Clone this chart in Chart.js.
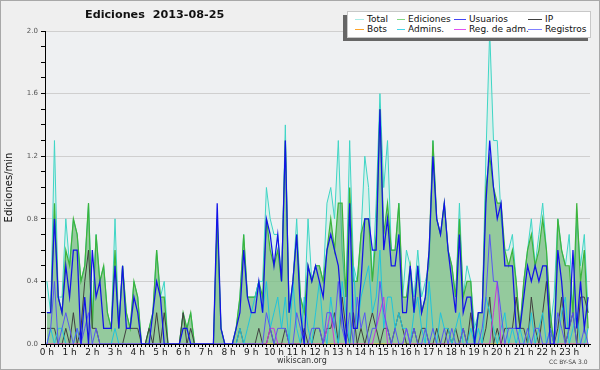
<!DOCTYPE html>
<html>
<head>
<meta charset="utf-8">
<script src="https://cdn.jsdelivr.net/npm/chart.js@4.4.1/dist/chart.umd.min.js"></script>
<style>
  html,body{margin:0;padding:0;background:#efefef;}
  #wrap{position:relative;width:600px;height:370px;background:#efefef;overflow:hidden;font-family:"DejaVu Sans",Verdana,sans-serif;}
  #c{position:absolute;left:0;top:0;}
  .frame{position:absolute;left:0;top:0;width:600px;height:370px;box-sizing:border-box;border:1px solid #a8a8a8;pointer-events:none;}
  .title{position:absolute;left:85px;top:8px;font-weight:bold;font-size:11.2px;white-space:pre;color:#111;}
  .lgshadow{position:absolute;left:343px;top:15px;width:245px;height:26px;background:#666;}
  .lgbox{position:absolute;left:347px;top:11px;width:242px;height:25px;background:#fff;border:1px solid #c8c8c8;}
  .li{position:absolute;font-size:9px;color:#111;white-space:nowrap;line-height:10px;}
  .ls{position:absolute;height:1px;}
  .foot{position:absolute;font-size:8px;color:#333;white-space:nowrap;}
</style>
</head>
<body>
<div id="wrap">
  <canvas id="c" width="600" height="370"></canvas>
  <div class="title">Ediciones  2013-08-25</div>
  <div class="lgshadow"></div>
  <div class="lgbox"></div>
  <div id="legend"></div>
  <div class="foot" style="left:277px;top:356px;">wikiscan.org</div>
  <div class="foot" style="left:549px;top:358px;font-size:6px;color:#444;">CC BY-SA 3.0</div>
  <div class="frame"></div>
</div>
<script>
// ---- data (10-minute slots, edits per minute) ----
const hourLabels = ['0 h','1 h','2 h','3 h','4 h','5 h','6 h','7 h','8 h','9 h','10 h','11 h','12 h','13 h','14 h','15 h','16 h','17 h','18 h','19 h','20 h','21 h','22 h','23 h'];
const yLabels = ['0.0','0.4','0.8','1.2','1.6','2.0'];
const seriesNames = ['Total','Ediciones','Usuarios','IP','Bots','Admins.','Reg. de adm.','Registros'];

const total = [
0.4,0.2,1.3,0.3,0.3,0.8, 0.5,0.8,0.7,0.4,0.5,0.9, 0.2,0.7,0.4,0.5,0.2,0.1, 0.8,0.1,0.5,0.2,0.1,0.4,
0.3,0.0,0.0,0.1,0.2,0.6, 0.3,0.4,0.0,0.0,0.0,0.0, 0.2,0.1,0.2,0.0,0.0,0.0, 0.0,0.0,0.0,0.8,0.1,0.0,
0.0,0.0,0.1,0.3,0.7,0.3, 0.3,0.3,0.4,0.4,1.0,0.8, 0.7,0.7,0.4,1.4,0.2,0.4, 0.8,0.3,0.2,0.8,0.4,0.5,
0.5,0.4,0.9,1.0,0.8,1.3, 0.6,0.3,1.3,0.5,0.4,0.7, 1.2,1.0,0.4,0.9,1.6,1.0, 1.3,0.6,0.6,0.9,0.3,0.6,
0.5,0.3,0.6,0.3,0.4,0.5, 1.3,0.8,0.7,0.9,0.6,0.5, 0.3,0.9,0.3,0.5,0.4,0.1, 0.2,0.2,1.2,2.0,1.3,1.3,
0.8,0.6,0.6,0.7,0.4,0.1, 0.4,0.6,0.8,0.5,0.7,0.9, 0.6,0.1,0.3,0.8,0.6,0.5, 0.7,0.2,0.8,0.5,0.7,0.2];

const ediciones = [
0.2,0.2,0.9,0.3,0.2,0.6, 0.5,0.8,0.7,0.4,0.5,0.9, 0.1,0.7,0.4,0.5,0.2,0.1, 0.6,0.1,0.5,0.2,0.1,0.4,
0.3,0.0,0.0,0.1,0.2,0.6, 0.3,0.3,0.0,0.0,0.0,0.0, 0.2,0.1,0.2,0.0,0.0,0.0, 0.0,0.0,0.0,0.8,0.1,0.0,
0.0,0.0,0.1,0.3,0.7,0.3, 0.3,0.3,0.4,0.3,0.8,0.6, 0.5,0.6,0.4,1.3,0.2,0.4, 0.7,0.3,0.2,0.5,0.4,0.5,
0.5,0.4,0.6,0.8,0.6,0.9, 0.9,0.3,1.0,0.4,0.4,0.7, 0.8,0.8,0.4,0.7,1.5,0.7, 0.9,0.6,0.6,0.9,0.3,0.3,
0.5,0.2,0.5,0.2,0.3,0.6, 1.3,0.8,0.7,0.9,0.6,0.5, 0.3,0.8,0.3,0.4,0.4,0.0, 0.2,0.2,1.0,1.2,1.0,0.9,
0.9,0.6,0.5,0.6,0.4,0.1, 0.4,0.6,0.7,0.5,0.6,0.8, 0.6,0.2,0.0,0.8,0.6,0.5, 0.5,0.2,0.9,0.4,0.6,0.1];

const usuarios = [
0.2,0.2,0.8,0.3,0.2,0.5, 0.3,0.6,0.6,0.0,0.3,0.0, 0.6,0.3,0.4,0.1,0.1,0.1, 0.5,0.1,0.5,0.1,0.1,0.3,
0.2,0.0,0.0,0.0,0.2,0.4, 0.3,0.0,0.0,0.0,0.0,0.0, 0.1,0.1,0.0,0.0,0.0,0.0, 0.0,0.0,0.0,0.9,0.1,0.0,
0.0,0.0,0.1,0.2,0.6,0.3, 0.2,0.2,0.4,0.2,0.8,0.7, 0.5,0.7,0.4,1.3,0.2,0.4, 0.7,0.2,0.0,0.5,0.4,0.5,
0.4,0.3,0.6,0.7,0.6,0.5, 0.2,0.0,0.9,0.1,0.1,0.4, 0.8,0.8,0.6,0.6,1.5,0.6, 0.8,0.5,0.5,0.7,0.2,0.2,
0.5,0.2,0.5,0.2,0.3,0.6, 1.2,0.8,0.7,0.9,0.6,0.4, 0.2,0.7,0.2,0.3,0.3,0.0, 0.2,0.2,0.9,1.3,1.0,0.8,
0.9,0.5,0.5,0.5,0.1,0.1, 0.3,0.5,0.4,0.5,0.4,0.5, 0.5,0.0,0.0,0.6,0.4,0.1, 0.1,0.6,0.1,0.4,0.1,0.3];

const ip = [
0.1,0.1,0.1,0.0,0.0,0.1, 0.0,0.2,0.0,0.1,0.4,0.6, 0.1,0.1,0.0,0.0,0.0,0.0, 0.0,0.0,0.0,0.1,0.1,0.1,
0.1,0.0,0.0,0.1,0.0,0.2, 0.0,0.2,0.0,0.0,0.0,0.0, 0.2,0.0,0.1,0.0,0.0,0.0, 0.0,0.0,0.0,0.0,0.0,0.0,
0.0,0.0,0.0,0.1,0.0,0.0, 0.0,0.0,0.1,0.0,0.0,0.1, 0.0,0.0,0.0,0.1,0.0,0.0, 0.0,0.0,0.1,0.0,0.0,0.1,
0.1,0.0,0.1,0.1,0.2,0.0, 0.3,0.1,0.0,0.2,0.0,0.1, 0.0,0.1,0.2,0.1,0.0,0.1, 0.1,0.0,0.1,0.2,0.1,0.0,
0.0,0.1,0.0,0.1,0.1,0.0, 0.0,0.1,0.0,0.0,0.1,0.0, 0.1,0.0,0.1,0.0,0.2,0.0, 0.0,0.0,0.1,0.3,0.0,0.1,
0.0,0.1,0.1,0.1,0.3,0.1, 0.1,0.0,0.3,0.1,0.0,0.2, 0.4,0.1,0.0,0.1,0.3,0.0, 0.1,0.2,0.0,0.3,0.3,0.2];

const bots = [
0,0,0,0,0,0, 0,0,0,0,0,0, 0,0,0,0,0,0, 0,0,0,0,0,0,
0,0,0,0,0,0, 0,0,0,0,0,0, 0,0,0,0,0,0, 0,0,0,0,0,0,
0,0,0,0,0,0, 0,0,0,0,0,0, 0,0,0,0,0,0, 0,0,0,0,0,0,
0,0,0,0,0,0, 0,0,0,0,0,0, 0,0,0,0,0,0, 0,0,0,0,0,0,
0,0,0,0,0,0, 0,0,0,0,0,0, 0,0,0,0,0,0, 0,0,0,0,0,0,
0,0,0,0,0,0, 0,0,0,0,0,0, 0,0,0,0,0,0, 0,0,0,0,0,0];

const admins = [
0.0,0.1,0.0,0.1,0.1,0.0, 0.0,0.0,0.1,0.0,0.0,0.0, 0.0,0.0,0.0,0.0,0.0,0.0, 0.1,0.0,0.0,0.0,0.0,0.0,
0.0,0.0,0.0,0.0,0.0,0.0, 0.0,0.0,0.0,0.0,0.0,0.0, 0.0,0.0,0.0,0.0,0.0,0.0, 0.0,0.0,0.0,0.0,0.0,0.0,
0.0,0.0,0.0,0.1,0.0,0.1, 0.2,0.3,0.4,0.2,0.4,0.1, 0.2,0.3,0.1,0.3,0.0,0.4, 0.1,0.0,0.3,0.1,0.0,0.2,
0.4,0.1,0.0,0.3,0.1,0.0, 0.4,0.2,0.0,0.5,0.1,0.3, 0.4,0.5,0.2,0.3,0.6,0.1, 0.3,0.3,0.1,0.2,0.1,0.1,
0.0,0.2,0.3,0.1,0.0,0.4, 0.1,0.0,0.2,0.1,0.1,0.0, 0.1,0.2,0.0,0.0,0.1,0.0, 0.1,0.0,0.3,0.2,0.1,0.0,
0.1,0.2,0.0,0.1,0.0,0.1, 0.0,0.0,0.2,0.0,0.1,0.2, 0.0,0.1,0.0,0.0,0.2,0.3, 0.0,0.1,0.2,0.0,0.0,0.1];

const regAdm = [
0,0,0,0,0,0, 0,0,0,0,0,0, 0,0,0,0,0,0, 0,0,0,0,0,0,
0,0,0,0,0,0, 0,0,0,0,0,0, 0,0,0,0,0,0, 0,0,0,0,0,0,
0,0,0,0,0,0, 0,0,0,0,0,0.1, 0.1,0,0,0,0,0, 0,0,0,0,0,0,
0,0,0.1,0.2,0,0, 0,0,0,0,0,0, 0,0,0,0.1,0.2,0.3, 0,0,0,0,0,0.1,
0,0,0,0,0,0, 0,0,0,0,0,0, 0,0,0,0,0,0, 0,0,0,0,0.2,0.4,
0,0,0,0,0,0, 0,0,0,0,0,0, 0,0,0,0,0,0, 0,0,0,0,0,0];

const registros = [
0.0,0.1,0.4,0.0,0.1,0.2, 0.1,0.0,0.1,0.0,0.1,0.2, 0.0,0.1,0.0,0.0,0.0,0.0, 0.0,0.0,0.0,0.0,0.0,0.0,
0.0,0.0,0.0,0.0,0.0,0.0, 0.0,0.0,0.0,0.0,0.0,0.0, 0.0,0.0,0.0,0.0,0.0,0.0, 0.0,0.0,0.0,0.0,0.0,0.0,
0.0,0.0,0.0,0.0,0.0,0.0, 0.0,0.0,0.0,0.0,0.2,0.1, 0.0,0.1,0.1,0.1,0.0,0.0, 0.2,0.1,0.0,0.0,0.1,0.1,
0.1,0.0,0.2,0.2,0.1,0.4, 0.1,0.0,0.2,0.0,0.3,0.1, 0.2,0.0,0.1,0.1,0.4,0.2, 0.1,0.0,0.1,0.0,0.0,0.1,
0.0,0.1,0.0,0.0,0.1,0.0, 0.1,0.0,0.0,0.1,0.0,0.1, 0.0,0.0,0.1,0.0,0.0,0.0, 0.0,0.1,0.3,0.7,0.4,0.4,
0.2,0.0,0.1,0.1,0.1,0.0, 0.0,0.1,0.0,0.1,0.1,0.0, 0.0,0.1,0.0,0.2,0.1,0.0, 0.1,0.2,0.0,0.0,0.1,0.0];

// ---- styles ----
const lineColors = {
  'Total':'#3fd6c6','Ediciones':'#3cb43c','Usuarios':'#1212e8','IP':'#404040',
  'Bots':'#ffa030','Admins.':'#20c4dc','Reg. de adm.':'#c838dc','Registros':'#5858f2'
};
const legendColors = {
  'Total':'#a8ece6','Ediciones':'#84d884','Usuarios':'#4444f4','IP':'#404040',
  'Bots':'#ffa428','Admins.':'#44d6e8','Reg. de adm.':'#e050f0','Registros':'#8080ff'
};
const values = {
  'Total':total,'Ediciones':ediciones,'Usuarios':usuarios,'IP':ip,
  'Bots':bots,'Admins.':admins,'Reg. de adm.':regAdm,'Registros':registros
};
const drawOrder = {'Total':8,'Ediciones':7,'Bots':6,'IP':5,'Admins.':4,'Reg. de adm.':3,'Registros':2,'Usuarios':1};

const slotsPerHour = 6;
const nSlots = total.length;

const datasets = seriesNames.map(name => {
  const ds = {
    label: name,
    data: values[name].map((v, i) => ({x: i, y: v})),
    borderColor: lineColors[name],
    borderWidth: name === 'Usuarios' ? 1.25 : (name === 'Ediciones' ? 1.2 : 1),
    pointRadius: 0,
    tension: 0,
    fill: false,
    order: drawOrder[name]
  };
  if (name === 'Total') { ds.fill = 'origin'; ds.backgroundColor = 'rgba(200,240,230,0.55)'; }
  if (name === 'Ediciones') { ds.fill = 'origin'; ds.backgroundColor = 'rgba(70,160,70,0.47)'; }
  return ds;
});

const plotBg = {
  id: 'plotBg',
  beforeDraw(chart) {
    const {ctx, chartArea: a} = chart;
    ctx.save();
    ctx.fillStyle = '#eef0f2';
    ctx.fillRect(a.left, a.top, a.right - a.left, a.bottom - a.top);
    ctx.restore();
  }
};

new Chart(document.getElementById('c').getContext('2d'), {
  type: 'line',
  data: { datasets },
  plugins: [plotBg],
  options: {
    responsive: false,
    animation: false,
    devicePixelRatio: 1,
    layout: { padding: { top: 31, right: 10, left: 0, bottom: 0 } },
    plugins: { legend: { display: false }, tooltip: { enabled: false }, title: { display: false } },
    scales: {
      x: {
        type: 'linear',
        min: -0.5,
        max: nSlots - 0.5,
        z: 1,
        afterBuildTicks: s => { s.ticks = values['Total'].map((_, i) => ({ value: i })); },
        ticks: {
          autoSkip: false, maxRotation: 0, minRotation: 0, padding: 0,
          color: '#1a1a1a', font: { family: 'DejaVu Sans', size: 9 },
          callback: v => (v % slotsPerHour === 0 ? hourLabels[v / slotsPerHour] : '')
        },
        grid: { drawOnChartArea: false, tickLength: 3, tickColor: '#000', color: '#000' },
        border: { color: '#000', width: 1 },
        afterFit: s => { s.height = 26; }
      },
      y: {
        min: 0, max: 2,
        afterBuildTicks: s => {
          const t = [];
          for (let k = 0; k <= 20; k++) t.push({ value: k / 10 });
          s.ticks = t;
        },
        ticks: {
          autoSkip: false, padding: 3, color: '#555',
          font: { family: 'DejaVu Sans', size: 7 },
          callback: v => { const k = Math.round(v * 10); return k % 4 === 0 ? yLabels[k / 4] : ''; }
        },
        grid: {
          tickLength: 4, tickColor: '#000',
          color: c => { const k = Math.round(c.tick.value * 10); return (k % 4 === 0 && k > 0) ? '#cfcfcf' : 'rgba(0,0,0,0)'; },
          lineWidth: 1
        },
        border: { color: '#000', width: 1 },
        title: { display: true, text: 'Ediciones/min', color: '#111', font: { family: 'DejaVu Sans', size: 10 }, padding: { top: 3, bottom: 0 } },
        afterFit: s => { s.width = 45; }
      }
    }
  }
});

// ---- legend (HTML) ----
const legendLayout = [
  ['Total', 355, 367, 0], ['Ediciones', 397, 408, 0], ['Usuarios', 454, 469, 0], ['IP', 528, 545, 0],
  ['Bots', 355, 367, 1], ['Admins.', 397, 408, 1], ['Reg. de adm.', 454, 469, 1], ['Registros', 528, 545, 1]
];
const lg = document.getElementById('legend');
legendLayout.forEach(([name, lx, tx, row]) => {
  const y = row === 0 ? 19 : 29;
  const s = document.createElement('div');
  s.className = 'ls';
  s.style.left = lx + 'px'; s.style.top = y + 'px';
  s.style.width = (tx - lx - 3) + 'px';
  s.style.background = legendColors[name];
  lg.appendChild(s);
  const t = document.createElement('div');
  t.className = 'li';
  t.style.left = tx + 'px'; t.style.top = (y - 5) + 'px';
  t.textContent = name;
  lg.appendChild(t);
});
</script>
</body>
</html>
